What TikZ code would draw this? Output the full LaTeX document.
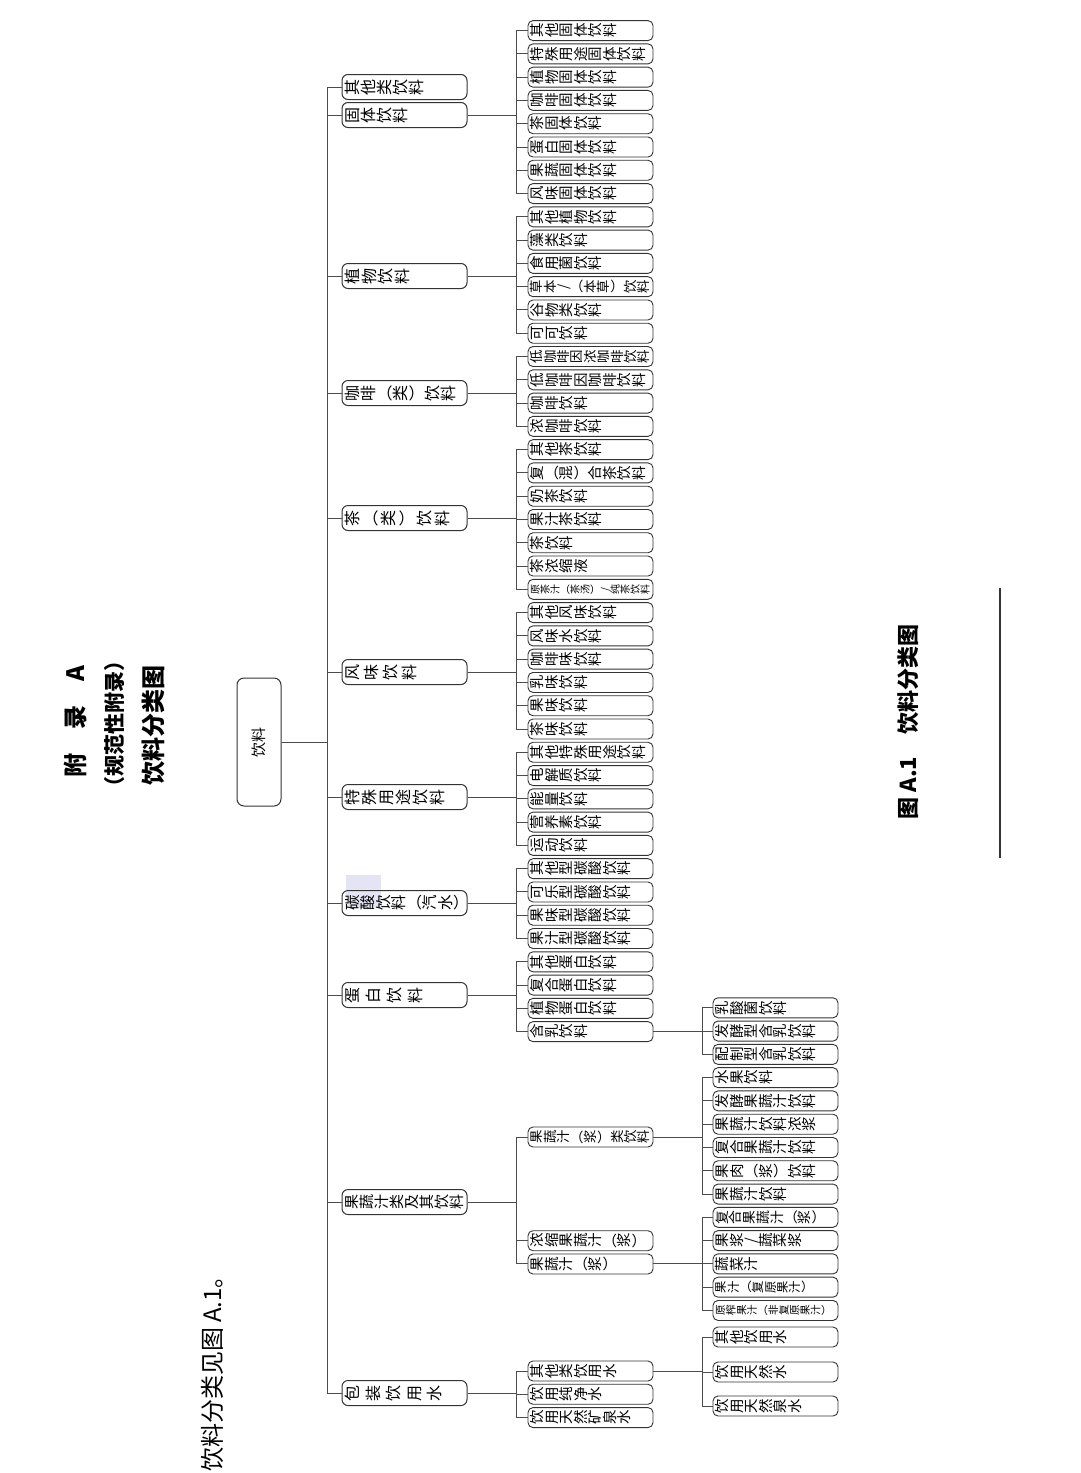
\documentclass[tikz,border=0pt]{standalone}
\usepackage{fontspec}
\setmainfont{Noto Sans CJK SC}
\usepackage{graphicx}
\usepackage{xcolor}
\usetikzlibrary{positioning}

% characters turned a quarter, brackets kept upright
\makeatletter
\newcommand\vtext[2][0pt]{\def\vt@gap{\kern#1}\vt@loop#2\vt@end}
\def\vt@end{\vt@end}
\def\vt@loop#1{\ifx#1\vt@end\else\vt@char{#1}\expandafter\vt@loop\fi}
\def\vt@char#1{\ifx#1（#1\else\ifx#1）#1\else\rotatebox[origin=c]{90}{\raisebox{0pt}[0.88em][0.12em]{#1}}\fi\fi\vt@gap}
\makeatother

\begin{document}
\begin{tikzpicture}[
      x=1pt, y=-1pt,
      rootbox/.style={
        rectangle,
        rounded corners=7pt,
        draw=black!80,
        line width=1pt,
        minimum width=44pt,
        minimum height=128pt,
        inner sep=0pt,
        font=\fontsize{15}{15}\selectfont
      },
      catbox/.style={
        rectangle,
        rounded corners=6pt,
        draw=black!80,
        line width=1pt,
        minimum height=25pt,
        text width=120pt,
        inner xsep=2.5pt,
        inner ysep=1pt,
        align=left,
        font=\fontsize{16}{16}\selectfont
      },
      subbox/.style={
        rectangle,
        rounded corners=5pt,
        draw=black!80,
        line width=0.9pt,
        minimum height=20pt,
        text width=121pt,
        inner xsep=2pt,
        inner ysep=1pt,
        align=left,
        font=\fontsize{14.5}{14.5}\selectfont
      },
      titletext/.style={
        rotate=90,
        inner sep=0pt,
        font=\bfseries\fontsize{24}{24}\selectfont
      },
      link/.style={
        draw=black!70,
        line width=1pt
      },
      node distance=2.38pt
    ]
    \useasboundingbox (0,0) rectangle (1080,1473);

    % Titles
    \node (annexTitle) [titletext] at (75,722) {附\quad 录\quad A};
    \node (annexType) [titletext, font=\bfseries\fontsize{21}{21}\selectfont] at (115,724) {（规范性附录）};
    \node (annexName) [titletext] at (153,725) {饮料分类图};
    \node (figRef) [titletext, font=\fontsize{24}{24}\selectfont] at (212,1368) {饮料分类见图 A.1。};
    \node (figCaption) [titletext, font=\bfseries\fontsize{22}{22}\selectfont] at (908,722) {图 A.1\quad 饮料分类图};
    \draw [line width=1.5pt, black!80] (1000,588) -- (1000,858);

    % scan mark
    \fill [cyan!25!blue!15, opacity=0.7] (346,875) rectangle (381,908);

    % Root Node
    \node (root) [rootbox] at (259,742) {\rotatebox{90}{饮料}};

    % Category Nodes
    \node (other) [catbox] at (404.5,87) {\vtext{其他类饮料}};
    \node (solid) [catbox] at (404.5,115) {\vtext{固体饮料}};
    \node (plant) [catbox] at (404.5,276) {\vtext[0.5pt]{植物饮料}};
    \node (coffee) [catbox] at (404.5,393) {\vtext{咖啡（类）饮料}};
    \node (tea) [catbox] at (404.5,518) {\vtext[2pt]{茶（类）饮料}};
    \node (flavor) [catbox] at (404.5,672) {\vtext[3pt]{风味饮料}};
    \node (special) [catbox] at (404.5,797) {\vtext[1pt]{特殊用途饮料}};
    \node (soda) [catbox, font=\fontsize{15.5}{15.5}\selectfont] at (404.5,903) {\vtext{碳酸饮料（汽水）}};
    \node (protein) [catbox] at (404.5,995) {\vtext[5pt]{蛋白饮料}};
    \node (juice) [catbox, font=\fontsize{15}{15}\selectfont] at (404.5,1202) {\vtext{果蔬汁类及其饮料}};
    \node (water) [catbox] at (404.5,1393) {\vtext[4.5pt]{包装饮用水}};

    % Solid Nodes
    \node (s1) [subbox] at (590.5,30.6) {\vtext{其他固体饮料}};
    \node (s2) [subbox, below=of s1] {\vtext{特殊用途固体饮料}};
    \node (s3) [subbox, below=of s2] {\vtext{植物固体饮料}};
    \node (s4) [subbox, below=of s3] {\vtext{咖啡固体饮料}};
    \node (s5) [subbox, below=of s4] {\vtext{茶固体饮料}};
    \node (s6) [subbox, below=of s5] {\vtext{蛋白固体饮料}};
    \node (s7) [subbox, below=of s6] {\vtext{果蔬固体饮料}};
    \node (s8) [subbox, below=of s7] {\vtext{风味固体饮料}};

    % Plant Nodes
    \node (p1) [subbox, below=of s8] {\vtext{其他植物饮料}};
    \node (p2) [subbox, below=of p1] {\vtext{藻类饮料}};
    \node (p3) [subbox, below=of p2] {\vtext{食用菌饮料}};
    \node (p4) [subbox, below=of p3, font=\fontsize{13.4}{13.4}\selectfont] {\vtext{草本/（本草）饮料}};
    \node (p5) [subbox, below=of p4] {\vtext{谷物类饮料}};
    \node (p6) [subbox, below=of p5] {\vtext{可可饮料}};

    % Coffee Nodes
    \node (c1) [subbox, below=of p6, font=\fontsize{13.4}{13.4}\selectfont] {\vtext{低咖啡因浓咖啡饮料}};
    \node (c2) [subbox, below=of c1] {\vtext{低咖啡因咖啡饮料}};
    \node (c3) [subbox, below=of c2] {\vtext{咖啡饮料}};
    \node (c4) [subbox, below=of c3] {\vtext{浓咖啡饮料}};

    % Tea Nodes
    \node (t1) [subbox, below=of c4] {\vtext{其他茶饮料}};
    \node (t2) [subbox, below=of t1] {\vtext{复（混）合茶饮料}};
    \node (t3) [subbox, below=of t2] {\vtext{奶茶饮料}};
    \node (t4) [subbox, below=of t3] {\vtext{果汁茶饮料}};
    \node (t5) [subbox, below=of t4] {\vtext{茶饮料}};
    \node (t6) [subbox, below=of t5] {\vtext{茶浓缩液}};
    \node (t7) [subbox, below=of t6, font=\fontsize{10}{10}\selectfont] {\vtext{原茶汁（茶汤）/纯茶饮料}};

    % Flavor Nodes
    \node (f1) [subbox, below=of t7] {\vtext{其他风味饮料}};
    \node (f2) [subbox, below=of f1] {\vtext{风味水饮料}};
    \node (f3) [subbox, below=of f2] {\vtext{咖啡味饮料}};
    \node (f4) [subbox, below=of f3] {\vtext{乳味饮料}};
    \node (f5) [subbox, below=of f4] {\vtext{果味饮料}};
    \node (f6) [subbox, below=of f5] {\vtext{茶味饮料}};

    % Special Nodes
    \node (e1) [subbox, below=of f6] {\vtext{其他特殊用途饮料}};
    \node (e2) [subbox, below=of e1] {\vtext{电解质饮料}};
    \node (e3) [subbox, below=of e2] {\vtext{能量饮料}};
    \node (e4) [subbox, below=of e3] {\vtext{营养素饮料}};
    \node (e5) [subbox, below=of e4] {\vtext{运动饮料}};

    % Soda Nodes
    \node (d1) [subbox, below=of e5] {\vtext{其他型碳酸饮料}};
    \node (d2) [subbox, below=of d1] {\vtext{可乐型碳酸饮料}};
    \node (d3) [subbox, below=of d2] {\vtext{果味型碳酸饮料}};
    \node (d4) [subbox, below=of d3] {\vtext{果汁型碳酸饮料}};

    % Protein Nodes
    \node (r1) [subbox, below=of d4] {\vtext{其他蛋白饮料}};
    \node (r2) [subbox, below=of r1] {\vtext{复合蛋白饮料}};
    \node (r3) [subbox, below=of r2] {\vtext{植物蛋白饮料}};
    \node (r4) [subbox, below=of r3] {\vtext{含乳饮料}};

    % Juice Nodes
    \node (j1) [subbox, font=\fontsize{13.4}{13.4}\selectfont] at (590.5,1137) {\vtext{果蔬汁（浆）类饮料}};
    \node (j2) [subbox] at (590.5,1240.7) {\vtext{浓缩果蔬汁（浆）}};
    \node (j3) [subbox, below=of j2] {\vtext{果蔬汁（浆）}};

    % Water Nodes
    \node (w1) [subbox] at (590.5,1371) {\vtext{其他类饮用水}};
    \node (w2) [subbox, below=of w1] {\vtext{饮用纯净水}};
    \node (w3) [subbox, below=of w2] {\vtext{饮用天然矿泉水}};

    % Milk Drink Nodes
    \node (m1) [subbox] at (775.5,1007.8) {\vtext{乳酸菌饮料}};
    \node (m2) [subbox, below=of m1] {\vtext{发酵型含乳饮料}};
    \node (m3) [subbox, below=of m2] {\vtext{配制型含乳饮料}};

    % Juice Drink Nodes
    \node (g1) [subbox, below=of m3] {\vtext{水果饮料}};
    \node (g2) [subbox, below=of g1] {\vtext{发酵果蔬汁饮料}};
    \node (g3) [subbox, below=of g2] {\vtext{果蔬汁饮料浓浆}};
    \node (g4) [subbox, below=of g3] {\vtext{复合果蔬汁饮料}};
    \node (g5) [subbox, below=of g4] {\vtext{果肉（浆）饮料}};
    \node (g6) [subbox, below=of g5] {\vtext{果蔬汁饮料}};

    % Pure Juice Nodes
    \node (k1) [subbox, below=of g6, font=\fontsize{13.8}{13.8}\selectfont] {\vtext{复合果蔬汁（浆）}};
    \node (k2) [subbox, below=of k1] {\vtext{果浆/蔬菜浆}};
    \node (k3) [subbox, below=of k2] {\vtext{蔬菜汁}};
    \node (k4) [subbox, below=of k3, font=\fontsize{12.3}{12.3}\selectfont] {\vtext{果汁（复原果汁）}};
    \node (k5) [subbox, below=of k4, font=\fontsize{10.6}{10.6}\selectfont] {\vtext{原榨果汁（非复原果汁）}};

    % Other Water Nodes
    \node (v1) [subbox] at (775.5,1337) {\vtext{其他饮用水}};
    \node (v2) [subbox] at (775.5,1372) {\vtext{饮用天然水}};
    \node (v3) [subbox] at (775.5,1406) {\vtext{饮用天然泉水}};

    % Links for Root
    \draw [link] (root.east) -- ++(46,0) |- (other.west);
    \draw [link] (root.east) -- ++(46,0) |- (solid.west);
    \draw [link] (root.east) -- ++(46,0) |- (plant.west);
    \draw [link] (root.east) -- ++(46,0) |- (coffee.west);
    \draw [link] (root.east) -- ++(46,0) |- (tea.west);
    \draw [link] (root.east) -- ++(46,0) |- (flavor.west);
    \draw [link] (root.east) -- ++(46,0) |- (special.west);
    \draw [link] (root.east) -- ++(46,0) |- (soda.west);
    \draw [link] (root.east) -- ++(46,0) |- (protein.west);
    \draw [link] (root.east) -- ++(46,0) |- (juice.west);
    \draw [link] (root.east) -- ++(46,0) |- (water.west);

    % Links for Solid
    \draw [link] (solid.east) -- ++(49,0) |- (s1.west);
    \draw [link] (solid.east) -- ++(49,0) |- (s2.west);
    \draw [link] (solid.east) -- ++(49,0) |- (s3.west);
    \draw [link] (solid.east) -- ++(49,0) |- (s4.west);
    \draw [link] (solid.east) -- ++(49,0) |- (s5.west);
    \draw [link] (solid.east) -- ++(49,0) |- (s6.west);
    \draw [link] (solid.east) -- ++(49,0) |- (s7.west);
    \draw [link] (solid.east) -- ++(49,0) |- (s8.west);

    % Links for Plant
    \draw [link] (plant.east) -- ++(49,0) |- (p1.west);
    \draw [link] (plant.east) -- ++(49,0) |- (p2.west);
    \draw [link] (plant.east) -- ++(49,0) |- (p3.west);
    \draw [link] (plant.east) -- ++(49,0) |- (p4.west);
    \draw [link] (plant.east) -- ++(49,0) |- (p5.west);
    \draw [link] (plant.east) -- ++(49,0) |- (p6.west);

    % Links for Coffee
    \draw [link] (coffee.east) -- ++(49,0) |- (c1.west);
    \draw [link] (coffee.east) -- ++(49,0) |- (c2.west);
    \draw [link] (coffee.east) -- ++(49,0) |- (c3.west);
    \draw [link] (coffee.east) -- ++(49,0) |- (c4.west);

    % Links for Tea
    \draw [link] (tea.east) -- ++(49,0) |- (t1.west);
    \draw [link] (tea.east) -- ++(49,0) |- (t2.west);
    \draw [link] (tea.east) -- ++(49,0) |- (t3.west);
    \draw [link] (tea.east) -- ++(49,0) |- (t4.west);
    \draw [link] (tea.east) -- ++(49,0) |- (t5.west);
    \draw [link] (tea.east) -- ++(49,0) |- (t6.west);
    \draw [link] (tea.east) -- ++(49,0) |- (t7.west);

    % Links for Flavor
    \draw [link] (flavor.east) -- ++(49,0) |- (f1.west);
    \draw [link] (flavor.east) -- ++(49,0) |- (f2.west);
    \draw [link] (flavor.east) -- ++(49,0) |- (f3.west);
    \draw [link] (flavor.east) -- ++(49,0) |- (f4.west);
    \draw [link] (flavor.east) -- ++(49,0) |- (f5.west);
    \draw [link] (flavor.east) -- ++(49,0) |- (f6.west);

    % Links for Special
    \draw [link] (special.east) -- ++(49,0) |- (e1.west);
    \draw [link] (special.east) -- ++(49,0) |- (e2.west);
    \draw [link] (special.east) -- ++(49,0) |- (e3.west);
    \draw [link] (special.east) -- ++(49,0) |- (e4.west);
    \draw [link] (special.east) -- ++(49,0) |- (e5.west);

    % Links for Soda
    \draw [link] (soda.east) -- ++(49,0) |- (d1.west);
    \draw [link] (soda.east) -- ++(49,0) |- (d2.west);
    \draw [link] (soda.east) -- ++(49,0) |- (d3.west);
    \draw [link] (soda.east) -- ++(49,0) |- (d4.west);

    % Links for Protein
    \draw [link] (protein.east) -- ++(49,0) |- (r1.west);
    \draw [link] (protein.east) -- ++(49,0) |- (r2.west);
    \draw [link] (protein.east) -- ++(49,0) |- (r3.west);
    \draw [link] (protein.east) -- ++(49,0) |- (r4.west);

    % Links for Juice
    \draw [link] (juice.east) -- ++(49,0) |- (j1.west);
    \draw [link] (juice.east) -- ++(49,0) |- (j2.west);
    \draw [link] (juice.east) -- ++(49,0) |- (j3.west);

    % Links for Water
    \draw [link] (water.east) -- ++(49,0) |- (w1.west);
    \draw [link] (water.east) -- ++(49,0) |- (w2.west);
    \draw [link] (water.east) -- ++(49,0) |- (w3.west);

    % Links for Milk Drink
    \draw [link] (r4.east) -- ++(49,0) |- (m1.west);
    \draw [link] (r4.east) -- ++(49,0) |- (m2.west);
    \draw [link] (r4.east) -- ++(49,0) |- (m3.west);

    % Links for Juice Drink
    \draw [link] (j1.east) -- ++(49,0) |- (g1.west);
    \draw [link] (j1.east) -- ++(49,0) |- (g2.west);
    \draw [link] (j1.east) -- ++(49,0) |- (g3.west);
    \draw [link] (j1.east) -- ++(49,0) |- (g4.west);
    \draw [link] (j1.east) -- ++(49,0) |- (g5.west);
    \draw [link] (j1.east) -- ++(49,0) |- (g6.west);

    % Links for Pure Juice
    \draw [link] (j3.east) -- ++(49,0) |- (k1.west);
    \draw [link] (j3.east) -- ++(49,0) |- (k2.west);
    \draw [link] (j3.east) -- ++(49,0) |- (k3.west);
    \draw [link] (j3.east) -- ++(49,0) |- (k4.west);
    \draw [link] (j3.east) -- ++(49,0) |- (k5.west);

    % Links for Other Water
    \draw [link] (w1.east) -- ++(49,0) |- (v1.west);
    \draw [link] (w1.east) -- ++(49,0) |- (v2.west);
    \draw [link] (w1.east) -- ++(49,0) |- (v3.west);

\end{tikzpicture}
\end{document}
